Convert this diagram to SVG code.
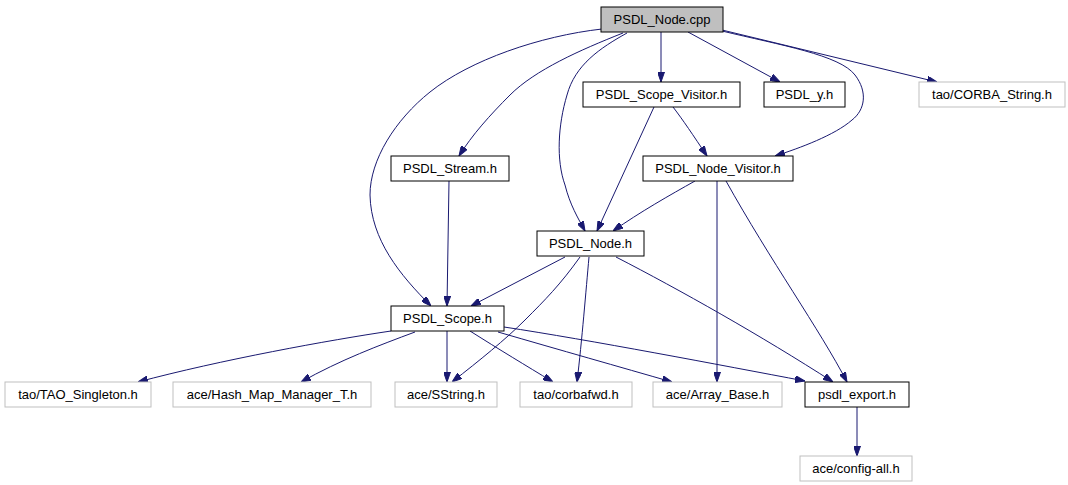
<svg xmlns="http://www.w3.org/2000/svg" width="1068" height="485" viewBox="0 0 1068 485">
<style>
  .node rect { fill: #ffffff; stroke: #000000; stroke-width: 1; }
  .node.ext rect { stroke: #bfbfbf; }
  .node.root rect { fill: #bfbfbf; }
  .node text { font-family: "Liberation Sans", Arial, sans-serif; font-size: 13px; fill: #000000; text-anchor: middle; }
  .edges path { fill: none; stroke: #191970; stroke-width: 1; marker-end: url(#arrow); }
</style>
<defs>
  <marker id="arrow" viewBox="0 0 10 7" refX="10" refY="3.5" markerWidth="10" markerHeight="7" markerUnits="userSpaceOnUse" orient="auto">
    <path d="M0,0 L10,3.5 L0,7 z" fill="#191970" stroke="#191970" stroke-width="1"/>
  </marker>
</defs>
<rect x="0" y="0" width="1068" height="485" fill="#ffffff"/>
<g id="edges" class="edges">
  <path d="M602,29 C540,36 470,60 430,92 C395,120 370,160 370,195 C371,240 400,275 431,306"/>
  <path d="M623,33 C580,50 535,70 510,95 C490,115 472,135 459,156"/>
  <path d="M627,33 C600,48 575,65 567,95 C558,125 556,160 565,185 C570,205 578,218 585,231"/>
  <path d="M661,32 L661,82"/>
  <path d="M688,32 L780,82"/>
  <path d="M722,31 C780,45 840,55 855,75 C868,92 865,110 852,120 C835,135 800,148 775,156"/>
  <path d="M722,30 L937,82"/>
  <path d="M673,107 C683,120 693,135 707,156"/>
  <path d="M654,107 L597,231"/>
  <path d="M449,181 L447,306"/>
  <path d="M695,181 C670,195 640,212 613,231"/>
  <path d="M717,181 L717,382"/>
  <path d="M726,181 C770,260 820,330 847,382"/>
  <path d="M565,257 L471,306"/>
  <path d="M580,257 C560,285 545,300 525,320 C505,340 480,360 452,382"/>
  <path d="M589,257 C586,290 582,340 577,382"/>
  <path d="M616,257 C680,290 760,335 833,382"/>
  <path d="M391,331 C330,340 220,360 138,382"/>
  <path d="M415,332 C380,345 340,360 301,382"/>
  <path d="M447,331 L447,382"/>
  <path d="M470,331 C500,350 525,365 553,382"/>
  <path d="M498,332 C560,350 620,367 672,382"/>
  <path d="M504,327 C590,340 720,365 805,381"/>
  <path d="M857,407 L857,456"/>
</g>
<g id="n_psdl_node_cpp" class="node root"><rect x="601" y="7" width="122" height="25"/><text x="662" y="24">PSDL_Node.cpp</text></g>
<g id="n_psdl_scope_visitor_h" class="node"><rect x="583" y="82" width="157" height="25"/><text x="661.5" y="99">PSDL_Scope_Visitor.h</text></g>
<g id="n_psdl_y_h" class="node"><rect x="764" y="82" width="81" height="25"/><text x="804.5" y="99">PSDL_y.h</text></g>
<g id="n_tao_corba_string_h" class="node ext"><rect x="919" y="82" width="146" height="25"/><text x="992" y="99">tao/CORBA_String.h</text></g>
<g id="n_psdl_stream_h" class="node"><rect x="391" y="156" width="118" height="25"/><text x="450" y="173">PSDL_Stream.h</text></g>
<g id="n_psdl_node_visitor_h" class="node"><rect x="643" y="156" width="150" height="25"/><text x="718" y="173">PSDL_Node_Visitor.h</text></g>
<g id="n_psdl_node_h" class="node"><rect x="537" y="231" width="107" height="25"/><text x="590.5" y="248">PSDL_Node.h</text></g>
<g id="n_psdl_scope_h" class="node"><rect x="391" y="306" width="113" height="25"/><text x="447.5" y="323">PSDL_Scope.h</text></g>
<g id="n_tao_tao_singleton_h" class="node ext"><rect x="5" y="382" width="146" height="25"/><text x="78" y="399">tao/TAO_Singleton.h</text></g>
<g id="n_ace_hash_map_manager_t_h" class="node ext"><rect x="173" y="382" width="198" height="25"/><text x="272" y="399">ace/Hash_Map_Manager_T.h</text></g>
<g id="n_ace_sstring_h" class="node ext"><rect x="395" y="382" width="102" height="25"/><text x="446" y="399">ace/SString.h</text></g>
<g id="n_tao_corbafwd_h" class="node ext"><rect x="520" y="382" width="112" height="25"/><text x="576" y="399">tao/corbafwd.h</text></g>
<g id="n_ace_array_base_h" class="node ext"><rect x="653" y="382" width="129" height="25"/><text x="717.5" y="399">ace/Array_Base.h</text></g>
<g id="n_psdl_export_h" class="node"><rect x="805" y="382" width="104" height="25"/><text x="857" y="399">psdl_export.h</text></g>
<g id="n_ace_config_all_h" class="node ext"><rect x="800" y="456" width="112" height="25"/><text x="856" y="473">ace/config-all.h</text></g>
</svg>
